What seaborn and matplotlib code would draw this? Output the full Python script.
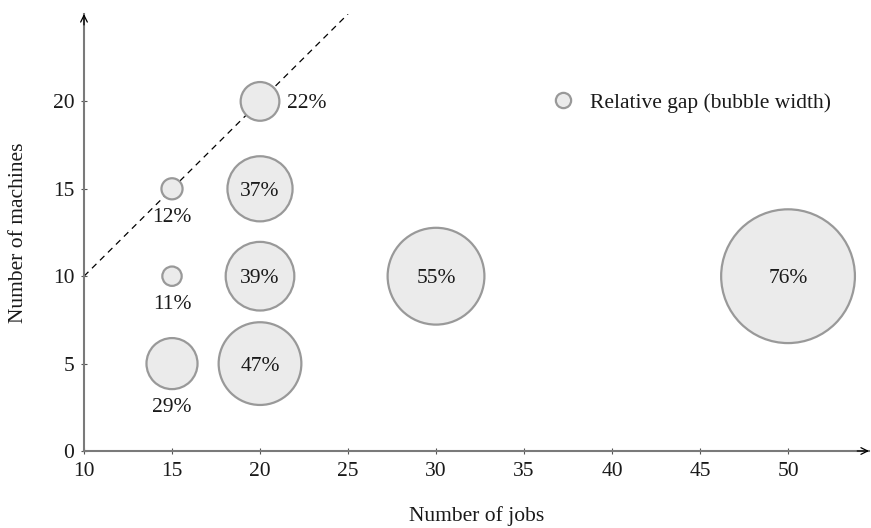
import matplotlib
matplotlib.use("Agg")
import matplotlib.pyplot as plt
from matplotlib.lines import Line2D
import seaborn as sns
import pandas as pd
import numpy as np

# Instance sizes and the relative gap (%) found for each
jobs = [20, 20, 15, 15, 20, 30, 50, 15, 20]
machines = [20, 15, 15, 10, 10, 10, 10, 5, 5]
gap_pct = [22, 37, 12, 11, 39, 55, 76, 29, 47]
# where each percentage label sits relative to its bubble
label_pos = ["right", "inside", "below", "below", "inside", "inside", "inside", "below", "inside"]

x_ticks = [10, 15, 20, 25, 30, 35, 40, 45, 50]
y_ticks = [0, 5, 10, 15, 20]

df = pd.DataFrame({"jobs": jobs, "machines": machines, "gap": gap_pct, "pos": label_pos})

sns.set_theme(style="white")
plt.rcParams["font.family"] = ["Liberation Serif", "DejaVu Serif"]
plt.rcParams["text.color"] = "#1a1a1a"
plt.rcParams["axes.labelcolor"] = "#1a1a1a"
plt.rcParams["xtick.labelcolor"] = "#1a1a1a"
plt.rcParams["ytick.labelcolor"] = "#1a1a1a"

fig = plt.figure(figsize=(8.71, 5.28), dpi=100)
ax = fig.add_axes([84 / 871, 77 / 528, 785 / 871, 437 / 528])
ax.set_xlim(10, 54.6)
ax.set_ylim(0, 25)

# bubble width in data units = gap / 10, converted to marker points
ppu = ax.transData.transform((1, 0))[0] - ax.transData.transform((0, 0))[0]
diam_pt = {g: g / 10 * ppu * 72 / fig.dpi for g in gap_pct}
sizes = {g: d ** 2 for g, d in diam_pt.items()}

fill = "#ebebeb"
edge = "#999999"

# diagonal reference line (jobs == machines)
ax.plot([10, 25], [10, 25], ls=(0, (5, 4)), color="black", lw=0.9, zorder=1)

sns.scatterplot(data=df, x="jobs", y="machines", size="gap", sizes=sizes,
                color=fill, edgecolor=edge, linewidth=1.6, alpha=1,
                legend=False, ax=ax, zorder=3, clip_on=False)

fs = 15.5
for _, r in df.iterrows():
    rad = r["gap"] / 20
    txt = f"{r['gap']}%"
    if r["pos"] == "inside":
        ax.text(r["jobs"], r["machines"], txt, ha="center", va="center_baseline", fontsize=fs, zorder=4)
    elif r["pos"] == "below":
        ax.text(r["jobs"], r["machines"] - rad - 1.05, txt, ha="center", va="center", fontsize=fs, zorder=4)
    else:
        ax.text(r["jobs"] + rad + 0.45, r["machines"], txt, ha="left", va="center_baseline", fontsize=fs, zorder=4)

# axes drawn as arrows
for s in ["top", "right"]:
    ax.spines[s].set_visible(False)
for s in ["left", "bottom"]:
    ax.spines[s].set_color("#7a7a7a")
    ax.spines[s].set_linewidth(1.5)
ax.annotate("", xy=(1.0, 0), xytext=(0.985, 0), xycoords="axes fraction",
            arrowprops=dict(arrowstyle="->", color="black", lw=0.9, shrinkA=0, shrinkB=0))
ax.annotate("", xy=(0, 1.0), xytext=(0, 0.975), xycoords="axes fraction",
            arrowprops=dict(arrowstyle="->", color="black", lw=0.9, shrinkA=0, shrinkB=0))

ax.set_xticks(x_ticks)
ax.set_yticks(y_ticks)
ax.tick_params(axis="x", which="major", direction="inout", length=4, width=0.8,
               color="#555555", labelsize=fs, pad=6, bottom=True)
ax.tick_params(axis="y", which="major", direction="inout", length=4, width=0.8,
               color="#555555", labelsize=fs, pad=5, left=True)
ax.set_xlabel("Number of jobs", fontsize=fs, labelpad=18)
ax.set_ylabel("Number of machines", fontsize=fs, labelpad=18)

handle = Line2D([], [], ls="none", marker="o", markersize=11, markerfacecolor=fill,
                markeredgecolor=edge, markeredgewidth=1.6)
ax.legend([handle], ["Relative gap (bubble width)"], frameon=False, fontsize=fs,
          loc="center left", bbox_to_anchor=(0.558, 0.797), handletextpad=0.25)

fig.savefig("out.png", dpi=100)
